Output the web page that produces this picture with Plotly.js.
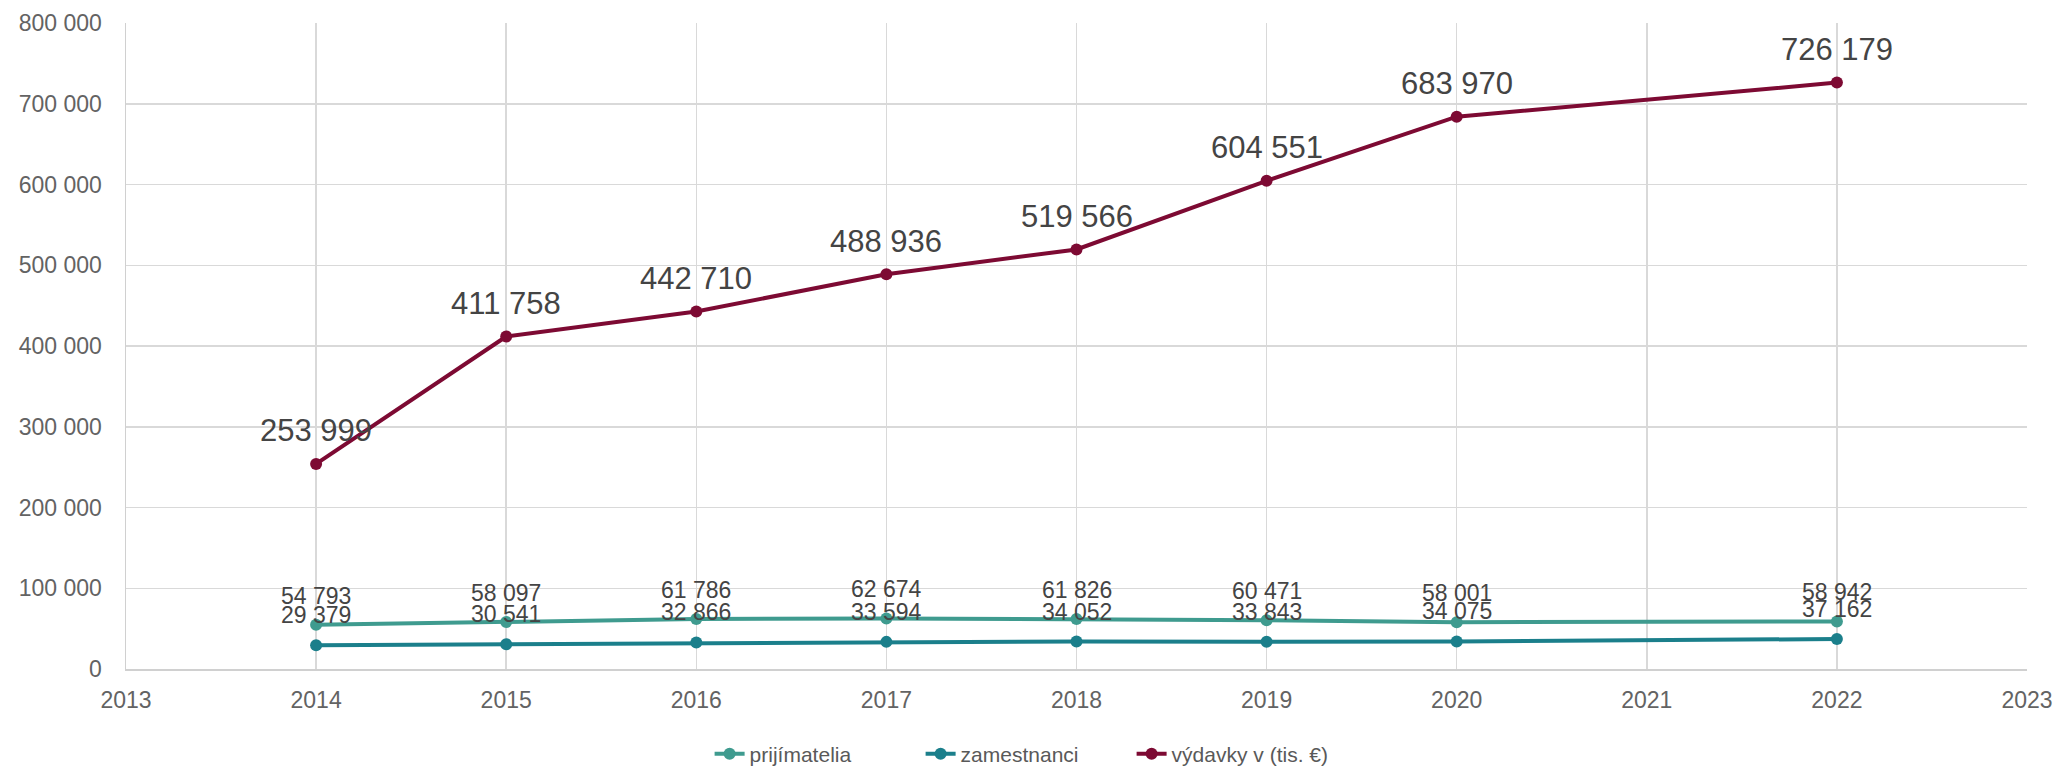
<!DOCTYPE html>
<html>
<head>
<meta charset="utf-8">
<script src="https://cdn.plot.ly/plotly-3.0.1.min.js"></script>
<style>html,body{margin:0;padding:0;background:#fff;}#chart{width:2057px;height:766px;}</style>
</head>
<body>
<div id="chart"></div>
<script>
const years = [2014, 2015, 2016, 2017, 2018, 2019, 2020, 2022];
const prijimatelia = [54793, 58097, 61786, 62674, 61826, 60471, 58001, 58942];
const zamestnanci = [29379, 30541, 32866, 33594, 34052, 33843, 34075, 37162];
const vydavky = [253999, 411758, 442710, 488936, 519566, 604551, 683970, 726179];
const seriesNames = ['prijímatelia', 'zamestnanci', 'výdavky v (tis. €)'];
const colors = ['#3f9b8f', '#1b7f8b', '#7d0a33'];

function fmt(v) { return String(v).replace(/\B(?=(\d{3})+(?!\d))/g, ' '); }

const allSeries = [prijimatelia, zamestnanci, vydavky];
const traces = allSeries.map((ys, i) => ({
  type: 'scatter', mode: 'lines+markers', name: seriesNames[i],
  x: years, y: ys,
  line: {color: colors[i], width: 4},
  marker: {color: colors[i], size: 12},
  hoverinfo: 'skip'
}));

const labelFont = [
  {family: '"Liberation Sans Narrow", "Arial Narrow", "Liberation Sans", sans-serif', size: 23, color: '#444444'},
  {family: '"Liberation Sans Narrow", "Arial Narrow", "Liberation Sans", sans-serif', size: 23, color: '#444444'},
  {family: '"Liberation Sans", Arial, sans-serif', size: 31, color: '#444444'}
];
const shifts = [29, 30, 33];
const annotations = [];
allSeries.forEach((ys, i) => {
  ys.forEach((v, j) => {
    annotations.push({x: years[j], y: v, xref: 'x', yref: 'y', text: fmt(v), showarrow: false,
      yshift: shifts[i], font: labelFont[i], xanchor: 'center', yanchor: 'middle'});
  });
});

const layout = {
  width: 2057, height: 766,
  margin: {l: 126, r: 30, t: 23, b: 97, autoexpand: false},
  paper_bgcolor: '#ffffff', plot_bgcolor: '#ffffff',
  separators: ', ',
  font: {family: '"Liberation Sans", Arial, sans-serif', size: 23, color: '#636363'},
  showlegend: true,
  legend: {orientation: 'h', x: 0.307, xanchor: 'left', y: -0.1316, yanchor: 'middle',
    font: {size: 21, color: '#595959'}, entrywidth: 166, entrywidthmode: 'pixels', traceorder: 'normal'},
  xaxis: {range: [2013, 2023], dtick: 1, tick0: 2013, showgrid: true, gridcolor: '#d9d9d9', gridwidth: 1.5,
    showline: true, linecolor: '#d0d0d0', linewidth: 1.5, zeroline: false, ticks: '',
    tickfont: {size: 23, color: '#636363'}, ticklabelstandoff: 10},
  yaxis: {range: [0, 800000], dtick: 100000, tickformat: ',d', showgrid: true, gridcolor: '#d9d9d9', gridwidth: 1.5,
    showline: true, linecolor: '#d0d0d0', linewidth: 1.5, zeroline: false, ticks: '',
    tickfont: {size: 23, color: '#636363'}, ticklabelstandoff: 18},
  annotations: annotations
};

Plotly.newPlot('chart', traces, layout, {displayModeBar: false, staticPlot: true});
</script>
</body>
</html>
